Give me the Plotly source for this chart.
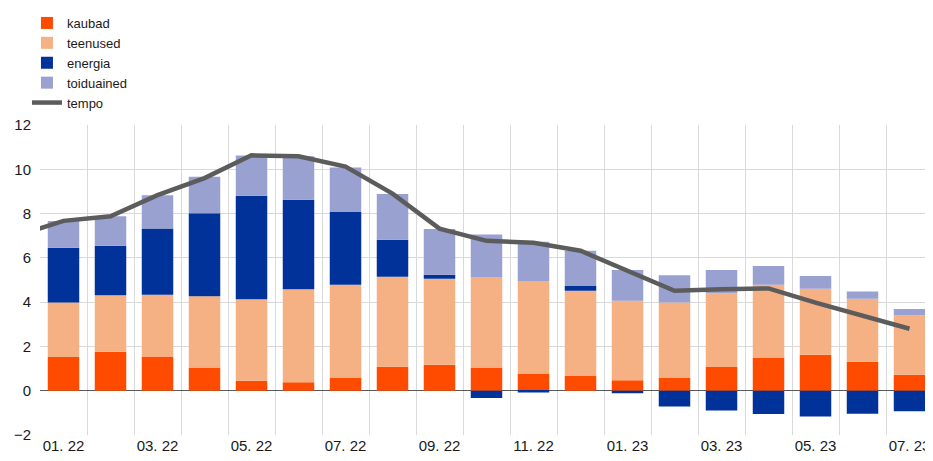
import plotly.graph_objects as go

months = ["12. 21", "01. 22", "02. 22", "03. 22", "04. 22", "05. 22", "06. 22", "07. 22", "08. 22",
          "09. 22", "10. 22", "11. 22", "12. 22", "01. 23", "02. 23", "03. 23", "04. 23",
          "05. 23", "06. 23", "07. 23"]
kaubad = [None, 1.52, 1.76, 1.55, 1.05, 0.45, 0.38, 0.60, 1.08, 1.17, 1.05, 0.78, 0.66,
          0.47, 0.60, 1.07, 1.50, 1.62, 1.31, 0.72]
teenused = [None, 2.46, 2.55, 2.78, 3.22, 3.68, 4.20, 4.19, 4.07, 3.89, 4.09, 4.18, 3.85,
            3.59, 3.38, 3.33, 3.28, 2.98, 2.84, 2.69]
energia = [None, 2.48, 2.24, 3.00, 3.75, 4.67, 4.04, 3.28, 1.67, 0.18, -0.33, -0.08, 0.22,
           -0.12, -0.71, -0.89, -1.05, -1.16, -1.04, -0.93]
toiduained = [None, 1.20, 1.33, 1.50, 1.64, 1.82, 1.97, 2.01, 2.06, 2.06, 1.92, 1.77, 1.59,
              1.39, 1.23, 1.05, 0.85, 0.58, 0.33, 0.28]
tempo = [7.0, 7.67, 7.88, 8.83, 9.6, 10.63, 10.59, 10.12, 8.9, 7.32, 6.77, 6.68, 6.32,
         5.42, 4.51, 4.58, 4.62, 3.98, 3.39, 2.80]
y_ticks = [-2, 0, 2, 4, 6, 8, 10, 12]

x = list(range(len(months)))
font = "Liberation Sans, Arial, sans-serif"

fig = go.Figure()
for name, vals, col in [("kaubad", kaubad, "#ff4b00"), ("teenused", teenused, "#f5b183"),
                        ("energia", energia, "#003299"), ("toiduained", toiduained, "#98a1d0")]:
    fig.add_trace(go.Bar(x=x, y=vals, name=name, marker=dict(color=col, line=dict(width=0)),
                         width=0.67))
fig.add_trace(go.Scatter(x=x, y=tempo, name="tempo", mode="lines",
                         line=dict(color="#5c5c5c", width=4.5)))

fig.update_layout(
    barmode="relative",
    width=925, height=453,
    margin=dict(l=32, r=0, t=117, b=26, autoexpand=False),
    plot_bgcolor="white", paper_bgcolor="white",
    font=dict(family=font, size=15, color="#1a1a1a"),
    showlegend=True,
    legend=dict(xref="container", yref="container", x=0.0205, xanchor="left",
                y=1.0, yanchor="top", traceorder="normal",
                font=dict(size=13), bgcolor="rgba(0,0,0,0)", tracegroupgap=0,
                itemwidth=30),
    xaxis=dict(range=[0.5, len(months) - 0.5], tickmode="array", automargin=False,
               tickvals=x[1::2], ticktext=months[1::2], showgrid=False, ticks="",
               zeroline=False, showline=False, tickfont=dict(size=15),
               minor=dict(tickmode="array", tickvals=[i - 0.5 for i in x[1:]] + [len(months) - 0.5],
                          showgrid=True, gridcolor="#d9d9d9", gridwidth=1, ticks="")),
    yaxis=dict(range=[-2, 12], tickmode="array", tickvals=y_ticks, showgrid=True, automargin=False,
               gridcolor="#d9d9d9", gridwidth=1, zeroline=True, zerolinecolor="#595959",
               zerolinewidth=1, showline=False, ticks="", tickfont=dict(size=15),
               ticklabelstandoff=8),
)
fig.write_html("out.html")
